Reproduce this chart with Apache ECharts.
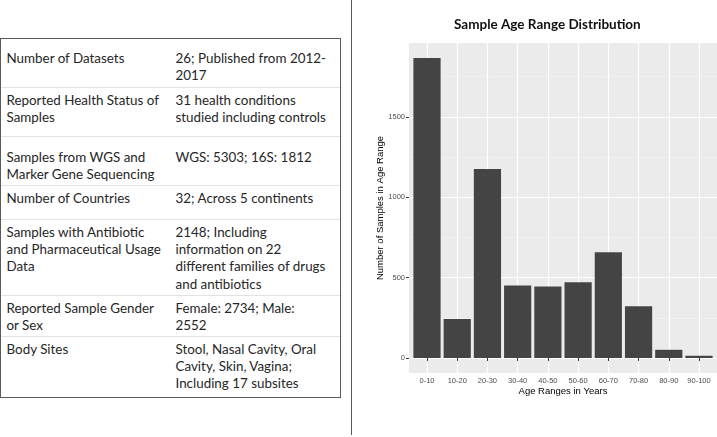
<!DOCTYPE html>
<html>
<head>
<meta charset="utf-8">
<script src="https://cdn.jsdelivr.net/npm/echarts@6/dist/echarts.min.js"></script>
<style>
  html, body { margin: 0; padding: 0; background: #fff; }
  body { width: 717px; height: 437px; position: relative; overflow: hidden; }
  #tbl {
    position: absolute; left: 0; top: 38px; width: 341px;
    border: 1.5px solid #5a5a5a; box-sizing: border-box;
    font-family: Lato, "Open Sans", sans-serif; font-size: 13.4px; color: #262626;
    line-height: 17.4px;
  }
  .row { position: relative; border-top: 1px solid #e2e2e2; box-sizing: border-box; }
  .row:first-child { border-top: none; }
  .c1, .c2 { position: absolute; white-space: nowrap; }
  .c1 { left: 5.5px; }
  .c2 { left: 174.5px; }
  #divider { position: absolute; left: 350.5px; top: 0; width: 1.5px; height: 435px; background: #5a5a5a; }
  #chart { position: absolute; left: 352px; top: 0; width: 365px; height: 437px; }
</style>
</head>
<body>
<div id="tbl"></div>
<div id="divider"></div>
<div id="chart"></div>
<script>
    // 左侧表格
    var tableRows = [
        ['Number of Datasets', '26; Published from 2012-|2017'],
        ['Reported Health Status of|Samples', '31 health conditions|studied including controls'],
        ['Samples from WGS and|Marker Gene Sequencing', 'WGS: 5303; 16S: 1812'],
        ['Number of Countries', '32; Across 5 continents'],
        ['Samples with Antibiotic|and Pharmaceutical Usage|Data', '2148; Including|information on 22|different families of drugs|and antibiotics'],
        ['Reported Sample Gender|or Sex', 'Female: 2734; Male:|2552'],
        ['Body Sites', 'Stool, Nasal Cavity, Oral|Cavity, Skin, Vagina;|Including 17 subsites']
    ];
    var rowHeights = [48, 49, 49, 34, 76, 41, 61];
    var rowPadTop = [10.5, 3.5, 12, 3.5, 3.5, 3.5, 3.5];

    var tbl = document.getElementById('tbl');
    tableRows.forEach(function (r, i) {
        var row = document.createElement('div');
        row.className = 'row';
        row.style.height = rowHeights[i] + 'px';
        var c1 = document.createElement('div');
        c1.className = 'c1';
        c1.style.top = rowPadTop[i] + 'px';
        c1.innerHTML = r[0].split('|').join('<br>');
        var c2 = document.createElement('div');
        c2.className = 'c2';
        c2.style.top = rowPadTop[i] + 'px';
        c2.innerHTML = r[1].split('|').join('<br>');
        row.appendChild(c1);
        row.appendChild(c2);
        tbl.appendChild(row);
    });

    // 柱状图
    var ageRanges = ['0-10', '10-20', '20-30', '30-40', '40-50', '50-60', '60-70', '70-80', '80-90', '90-100'];
    var sampleCounts = [1866, 242, 1176, 451, 444, 471, 657, 322, 51, 14];
    var yTicks = [0, 500, 1000, 1500];

    var dataMax = Math.max.apply(null, sampleCounts);
    var yMin = -dataMax * 0.05;
    var yMax = dataMax * 1.05;

    var myChart = echarts.init(document.getElementById('chart'), null, {renderer: 'canvas'});
    var option = {
        animation: false,
        backgroundColor: '#fff',
        title: {
            text: 'Sample Age Range Distribution',
            left: 97,
            top: 13,
            textStyle: {
                fontFamily: 'Lato',
                fontWeight: 'bold',
                fontSize: 13.5,
                color: '#111'
            }
        },
        grid: [
            {left: 57, right: 0, top: 43, bottom: 64, show: true, backgroundColor: '#EBEBEB', borderWidth: 0},
            {left: 75, right: 18, top: 43, bottom: 64}
        ],
        xAxis: [
            {type: 'value', gridIndex: 0, show: false, min: 0, max: 1},
            {
                type: 'category',
                gridIndex: 1,
                data: ageRanges,
                boundaryGap: false,
                name: 'Age Ranges in Years',
                nameLocation: 'middle',
                nameGap: 13,
                nameMoveOverlap: false,
                nameTextStyle: {fontFamily: 'Liberation Sans', fontSize: 9.5, color: '#000'},
                axisLine: {show: false},
                axisTick: {show: true, interval: 0, length: 3, lineStyle: {color: '#333', width: 1}},
                axisLabel: {interval: 0, fontFamily: 'Liberation Sans', fontSize: 7.5, color: '#4d4d4d', margin: 4},
                splitLine: {show: true, interval: 0, lineStyle: {color: '#fff', width: 1.2}}
            }
        ],
        yAxis: [
            {
                type: 'value',
                gridIndex: 0,
                min: yMin,
                max: yMax,
                name: 'Number of Samples in Age Range',
                nameLocation: 'middle',
                nameRotate: 90,
                nameGap: 24,
                nameMoveOverlap: false,
                nameTextStyle: {fontFamily: 'Liberation Sans', fontSize: 9.5, color: '#000'},
                axisLine: {show: false},
                axisTick: {show: true, length: 3, customValues: yTicks, lineStyle: {color: '#333', width: 1}},
                axisLabel: {
                    customValues: yTicks,
                    formatter: function (v) { return String(v); },
                    fontFamily: 'Liberation Sans', fontSize: 7.5, color: '#4d4d4d', margin: 4
                },
                splitLine: {show: true, lineStyle: {color: '#fff', width: 1.2}},
                minorTick: {show: false, splitNumber: 2},
                minorSplitLine: {show: true, lineStyle: {color: '#f4f4f4', width: 0.7}}
            },
            {type: 'value', gridIndex: 1, min: yMin, max: yMax, show: false}
        ],
        series: [{
            type: 'bar',
            xAxisIndex: 1,
            yAxisIndex: 1,
            data: sampleCounts,
            barWidth: '90%',
            clip: false,
            itemStyle: {color: '#444444'}
        }]
    };
    myChart.setOption(option);
</script>
</body>
</html>
